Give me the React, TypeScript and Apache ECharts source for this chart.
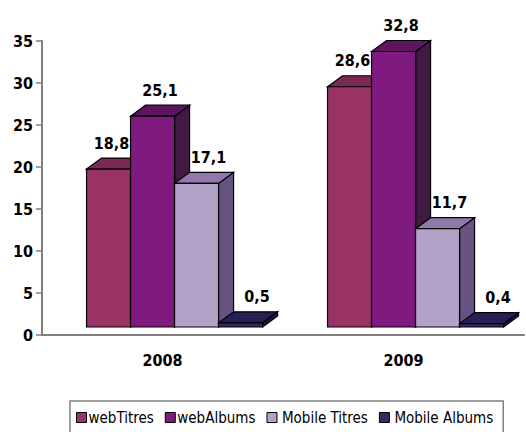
import React, { useEffect, useRef } from "react";
import * as echarts from "echarts";

const categories = ["2008", "2009"];
const seriesNames = ["webTitres", "webAlbums", "Mobile Titres", "Mobile Albums"];
const webTitres = [18.8, 28.6];
const webAlbums = [25.1, 32.8];
const mobileTitres = [17.1, 11.7];
const mobileAlbums = [0.5, 0.4];
const seriesValues = [webTitres, webAlbums, mobileTitres, mobileAlbums];

const frontColors = ["#993366", "#7f1a7f", "#b3a2c7", "#302a68"];
const topColors = ["#7a2952", "#5f145f", "#9078ab", "#262055"];
const sideColors = ["#5c1f3d", "#401a40", "#665382", "#1c1840"];

const FONT = "'DejaVu Sans Condensed', 'Liberation Sans Narrow', sans-serif";

export default function App() {
  const ref = useRef<HTMLDivElement>(null);
  useEffect(() => {
    document.body.style.margin = "0";
    if (!ref.current) return;
    const chart = echarts.init(ref.current, undefined, { renderer: "svg" });
    const DX = 15;
    const DY = -11;
    const SHIFT_Y = -8;
    const makeRender = (si: number) => (params: any, api: any) => {
      const cat = api.value(0);
      const v = api.value(1);
      const p0 = api.coord([cat, 0]);
      const p1 = api.coord([cat, v]);
      const catW = api.size([1, 0])[0];
      const barW = catW * 0.1826;
      const x = p0[0] - 2 * barW + catW * 0.05 + si * barW;
      const yB = p0[1] + SHIFT_Y;
      const yT = p1[1] + SHIFT_Y;
      const stroke = { stroke: "#000", lineWidth: 1.2 };
      return {
        type: "group",
        children: [
          {
            type: "polygon",
            shape: {
              points: [
                [x + barW, yT],
                [x + barW + DX, yT + DY],
                [x + barW + DX, yB + DY],
                [x + barW, yB],
              ],
            },
            style: { fill: sideColors[si], ...stroke },
          },
          {
            type: "polygon",
            shape: {
              points: [
                [x, yT],
                [x + DX, yT + DY],
                [x + barW + DX, yT + DY],
                [x + barW, yT],
              ],
            },
            style: { fill: topColors[si], ...stroke },
          },
          {
            type: "rect",
            shape: { x, y: yT, width: barW, height: yB - yT },
            style: { fill: frontColors[si], ...stroke },
          },
          {
            type: "text",
            style: {
              text: v.toFixed(1).replace(".", ","),
              x: x + barW / 2 + 3 + 4.5 * si,
              y: yT + DY - 15,
              textAlign: "center",
              verticalAlign: "middle",
              font: `bold 16px ${FONT}`,
              fill: "#000",
            },
          },
        ],
      };
    };

    const legendPads = [
      [0, 0, 0, -3],
      [0, 10, 0, -3],
      [0, 12, 0, 0],
      [0, 0, 0, 0],
    ];

    chart.setOption({
      animation: false,
      grid: { left: 42, right: 2, top: 41, bottom: 97 },
      xAxis: {
        type: "category",
        data: categories,
        axisLine: { lineStyle: { color: "#808080", width: 2 } },
        axisTick: { length: 6, lineStyle: { color: "#808080", width: 1.5 } },
        axisLabel: {
          margin: 17,
          color: "#000",
          fontWeight: "bold",
          fontSize: 16,
          fontFamily: FONT,
        },
      },
      yAxis: {
        type: "value",
        min: 0,
        max: 35,
        interval: 5,
        splitLine: { show: false },
        axisLine: { show: true, lineStyle: { color: "#808080", width: 2 } },
        axisTick: { show: true, length: 6, lineStyle: { color: "#808080", width: 1.5 } },
        axisLabel: {
          margin: 9,
          color: "#000",
          fontWeight: "bold",
          fontSize: 16,
          fontFamily: FONT,
        },
      },
      legend: {
        left: 70,
        top: 401,
        padding: [9, 10, 9, 6],
        itemGap: 11,
        itemWidth: 10,
        itemHeight: 10,
        icon: "rect",
        borderColor: "#808080",
        borderWidth: 1.5,
        itemStyle: { borderColor: "#000", borderWidth: 1 },
        textStyle: { fontSize: 15, color: "#000", fontFamily: FONT },
        data: seriesNames.map((name, i) => ({
          name,
          textStyle: { fontSize: 15, color: "#000", fontFamily: FONT, padding: legendPads[i] },
        })),
      },
      series: seriesValues.map((vals, si) => ({
        type: "custom",
        name: seriesNames[si],
        clip: false,
        itemStyle: { color: frontColors[si] },
        renderItem: makeRender(si),
        encode: { x: 0, y: 1 },
        data: vals.map((v, ci) => [ci, v]),
      })),
    });
    return () => chart.dispose();
  }, []);
  return <div ref={ref} style={{ width: 526, height: 432 }} />;
}
